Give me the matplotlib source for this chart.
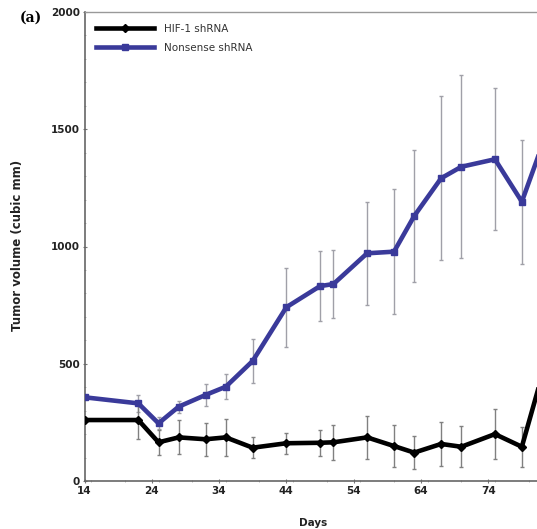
import matplotlib
matplotlib.use("Agg")
import matplotlib.pyplot as plt
from matplotlib.ticker import MultipleLocator

days = [14, 22, 25, 28, 32, 35, 39, 44, 49, 51, 56, 60, 63, 67, 70, 75, 79, 82]
hif1 = [260, 260, 165, 186, 178, 186, 142, 161, 163, 165, 186, 149, 121, 158, 146, 200, 146, 450]
hif1_err = [0, 80, 53, 72, 70, 80, 44, 44, 55, 74, 92, 88, 71, 95, 87, 107, 85, 60]
nons = [357, 331, 246, 317, 367, 402, 512, 741, 831, 840, 971, 978, 1130, 1291, 1340, 1372, 1191, 1430]
nons_err = [0, 35, 25, 25, 47, 54, 94, 168, 150, 147, 220, 266, 280, 350, 390, 303, 265, 300]

xticks = [14, 24, 34, 44, 54, 64, 74]
yticks = [0, 500, 1000, 1500, 2000]

fig = plt.figure(figsize=(5.37, 5.29), dpi=100)
ax = fig.add_axes([84.5/537, 48/529, 471/537, 469/529])

ecol = "#a0a0a8"
ax.errorbar(days, nons, yerr=nons_err, fmt="none", ecolor=ecol, elinewidth=1.0, capsize=1.2, zorder=1)
ax.errorbar(days, hif1, yerr=hif1_err, fmt="none", ecolor="#808080", elinewidth=1.0, capsize=1.2, zorder=1)
ax.plot(days, hif1, color="black", lw=3.3, marker="D", ms=4, label="HIF-1 shRNA", zorder=3)
ax.plot(days, nons, color="#3a3a9a", lw=3.3, marker="s", ms=5, label="Nonsense shRNA", zorder=3)

ax.set_xlim(14, 84)
ax.set_ylim(0, 2000)
ax.set_xticks(xticks)
ax.set_yticks(yticks)
ax.xaxis.set_minor_locator(MultipleLocator(5))
ax.yaxis.set_minor_locator(MultipleLocator(100))
ax.tick_params(axis="both", which="major", direction="inout", length=3, width=0.8, color="#777777",
               labelsize=7.5, pad=2)
ax.tick_params(axis="both", which="minor", direction="inout", length=2, width=0.6, color="#aaaaaa")
for lab in ax.get_xticklabels() + ax.get_yticklabels():
    lab.set_fontweight("bold")
    lab.set_color("#222222")

for s in ["left", "bottom"]:
    ax.spines[s].set_color("#666666")
    ax.spines[s].set_linewidth(1.2)
ax.spines["top"].set_color("#999999")
ax.spines["top"].set_linewidth(1.0)
ax.spines["right"].set_visible(False)

ax.set_xlabel("Days", fontsize=7.5, fontweight="bold", color="#222222")
ax.set_ylabel("Tumor volume (cubic mm)", fontsize=8.5, fontweight="bold", color="#222222")
ax.xaxis.set_label_coords((313-84.5)/471, -(518-481)/469)
ax.yaxis.set_label_coords(-(84.5-18)/471, (481-245)/469)
ax.yaxis.label.set_va("center")

leg = ax.legend(loc="upper left", frameon=False, fontsize=7.5, handlelength=5.5,
                bbox_to_anchor=(0.005, 0.995), labelspacing=0.9, handletextpad=1.0)
for t in leg.get_texts():
    t.set_color("#333333")

fig.text(20/537, 1-18/529, "(a)", fontsize=10, fontweight="bold", family="DejaVu Serif",
         va="center", ha="left")

fig.savefig("out.png", dpi=100)
